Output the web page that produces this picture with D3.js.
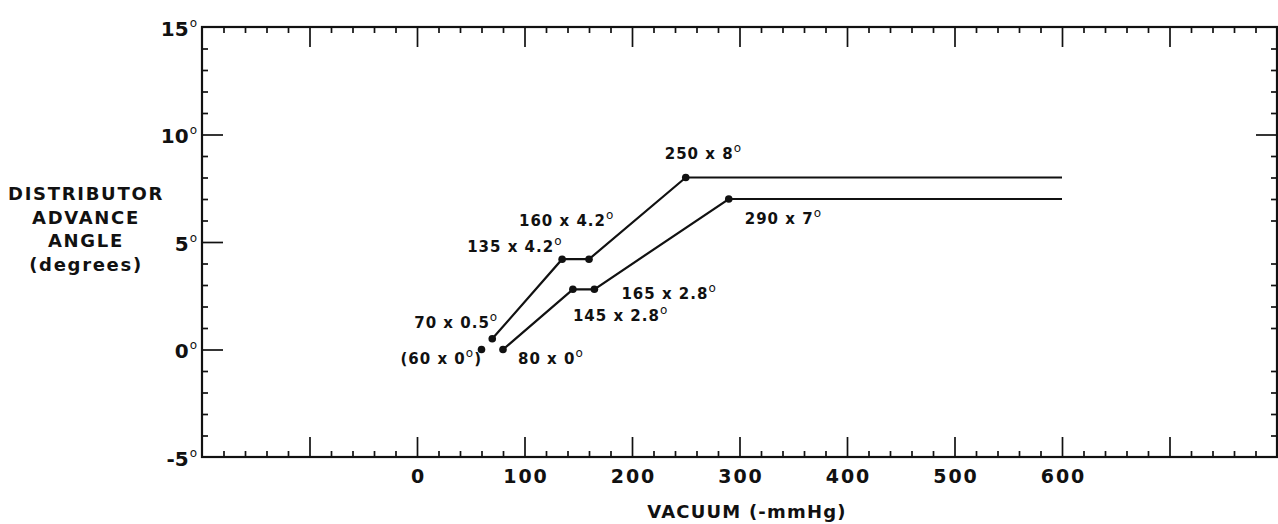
<!DOCTYPE html>
<html>
<head>
<meta charset="utf-8">
<script src="https://cdn.jsdelivr.net/npm/d3@7"></script>
<style>
  html, body { margin: 0; padding: 0; background: #fff; }
  svg { display: block; }
  text { font-family: "DejaVu Sans", sans-serif; font-weight: bold; fill: #111; }
</style>
</head>
<body>
<svg id="chart" width="1278" height="524"></svg>
<script>
// Vacuum advance curves: vacuum (-mmHg) vs. distributor advance angle (degrees)
const upperVacuum = [70, 135, 160, 250, 600];
const upperAdvance = [0.5, 4.2, 4.2, 8, 8];
const lowerVacuum = [80, 145, 165, 290, 600];
const lowerAdvance = [0, 2.8, 2.8, 7, 7];
// standalone start point shown in parentheses
const startVacuum = [60];
const startAdvance = [0];

const xTickLabels = [0, 100, 200, 300, 400, 500, 600];
const yTickLabels = [-5, 0, 5, 10, 15];
const xMajorTicks = [-100, 0, 100, 200, 300, 400, 500, 600, 700];
const yMajorTicks = [0, 5, 10];

// annotated break points: [vacuum, advance, caption]
const pointLabels = [
  [250, 8, "250 x 8"],
  [160, 4.2, "160 x 4.2"],
  [135, 4.2, "135 x 4.2"],
  [165, 2.8, "165 x 2.8"],
  [145, 2.8, "145 x 2.8"],
  [70, 0.5, "70 x 0.5"],
  [60, 0, "(60 x 0"],
  [80, 0, "80 x 0"],
  [290, 7, "290 x 7"]
];
// caption placement relative to each point (left edge, baseline)
const labelOffsets = [
  [-21, -19], [-70, -33], [-95, -7], [27, 10], [0, 32],
  [-78, -11], [-81, 14], [15, 14], [16, 25]
];

const svg = d3.select("#chart");
const plotLeft = 202, plotRight = 1277, plotTop = 27, plotBottom = 457;

const x = d3.scaleLinear().domain([-200, 800]).range([plotLeft, plotRight]);
const y = d3.scaleLinear().domain([-5, 15]).range([plotBottom, plotTop]);

const xMinor = d3.range(-180, 800, 20).filter(v => v % 100 !== 0);
const yMinor = d3.range(-4, 15, 1).filter(v => v % 5 !== 0);

function styleAxis(g) {
  g.select(".domain").remove();
  g.selectAll(".tick line").attr("stroke", "#111").attr("stroke-width", 1.7);
  g.selectAll(".tick text").remove();
}

// inward tick marks on all four sides
const frame = svg.append("g");
frame.append("g").attr("transform", `translate(0,${plotTop})`)
  .call(d3.axisBottom(x).tickValues(xMinor).tickSize(6)).call(styleAxis);
frame.append("g").attr("transform", `translate(0,${plotTop})`)
  .call(d3.axisBottom(x).tickValues(xMajorTicks).tickSize(20)).call(styleAxis);
frame.append("g").attr("transform", `translate(0,${plotBottom})`)
  .call(d3.axisTop(x).tickValues(xMinor).tickSize(6)).call(styleAxis);
frame.append("g").attr("transform", `translate(0,${plotBottom})`)
  .call(d3.axisTop(x).tickValues(xMajorTicks).tickSize(20)).call(styleAxis);
frame.append("g").attr("transform", `translate(${plotLeft},0)`)
  .call(d3.axisRight(y).tickValues(yMinor).tickSize(6)).call(styleAxis);
frame.append("g").attr("transform", `translate(${plotLeft},0)`)
  .call(d3.axisRight(y).tickValues(yMajorTicks).tickSize(21)).call(styleAxis);
frame.append("g").attr("transform", `translate(${plotRight},0)`)
  .call(d3.axisLeft(y).tickValues(yMinor).tickSize(6)).call(styleAxis);
frame.append("g").attr("transform", `translate(${plotRight},0)`)
  .call(d3.axisLeft(y).tickValues([10]).tickSize(21)).call(styleAxis);

frame.append("rect")
  .attr("x", plotLeft).attr("y", plotTop)
  .attr("width", plotRight - plotLeft).attr("height", plotBottom - plotTop)
  .attr("fill", "none").attr("stroke", "#111").attr("stroke-width", 2.2);

// tick labels
const xLab = svg.append("g").attr("transform", `translate(0,${plotBottom})`)
  .call(d3.axisBottom(x).tickValues(xTickLabels).tickSize(0).tickPadding(13).tickFormat(d3.format("d")));
xLab.select(".domain").remove();
xLab.selectAll(".tick text").attr("font-size", 19).attr("fill", "#111")
  .style("font-family", "DejaVu Sans").style("font-weight", "bold")
  .style("letter-spacing", "2px").attr("dx", 1);

const yLab = svg.append("g").attr("transform", `translate(${plotLeft - 5},0)`)
  .call(d3.axisLeft(y).tickValues(yTickLabels).tickSize(0).tickPadding(0));
yLab.select(".domain").remove();
yLab.selectAll(".tick text").each(function(d) {
  const t = d3.select(this);
  t.text(null).attr("font-size", 20).attr("fill", "#111")
    .style("font-family", "DejaVu Sans").style("font-weight", "bold")
    .attr("dy", "0.4em");
  t.append("tspan").text(d3.format("d")(d).replace("\u2212", "-"));
  t.append("tspan").text("o").attr("font-size", 12).style("font-weight", "normal")
    .attr("dy", "-0.75em").attr("dx", 1);
});

// axis titles
svg.append("text")
  .attr("x", 747).attr("y", 518)
  .attr("text-anchor", "middle").attr("font-size", 18)
  .style("letter-spacing", "1.2px")
  .text("VACUUM (-mmHg)");

const yTitle = ["DISTRIBUTOR", "ADVANCE", "ANGLE", "(degrees)"];
svg.append("text").attr("text-anchor", "middle").attr("font-size", 18)
  .style("letter-spacing", "1.7px")
  .selectAll("tspan").data(yTitle).join("tspan")
  .attr("x", 86).attr("y", (d, i) => 200 + i * 23.5)
  .text(d => d);

// curves
const line = d3.line().x(d => x(d[0])).y(d => y(d[1]));
const upper = upperVacuum.map((v, i) => [v, upperAdvance[i]]);
const lower = lowerVacuum.map((v, i) => [v, lowerAdvance[i]]);
const start = startVacuum.map((v, i) => [v, startAdvance[i]]);

[upper, lower].forEach(series => {
  svg.append("path").datum(series)
    .attr("d", line).attr("fill", "none")
    .attr("stroke", "#111").attr("stroke-width", 2.2);
  svg.append("g").selectAll("circle").data(series.slice(0, -1)).join("circle")
    .attr("cx", d => x(d[0])).attr("cy", d => y(d[1])).attr("r", 3.8)
    .attr("fill", "#111");
});
svg.append("g").selectAll("circle").data(start).join("circle")
  .attr("cx", d => x(d[0])).attr("cy", d => y(d[1])).attr("r", 3.8)
  .attr("fill", "#111");

// point captions with superscript degree mark
pointLabels.forEach((p, i) => {
  const t = svg.append("text")
    .attr("x", x(p[0]) + labelOffsets[i][0])
    .attr("y", y(p[1]) + labelOffsets[i][1])
    .attr("font-size", 15)
    .style("letter-spacing", "1px");
  t.append("tspan").text(p[2]);
  t.append("tspan").text("o").attr("font-size", 12).style("font-weight", "normal")
    .attr("dx", 0).attr("dy", -7);
  if (p[2].startsWith("(")) {
    t.append("tspan").text(")").attr("dy", 7);
  }
});
</script>
</body>
</html>
